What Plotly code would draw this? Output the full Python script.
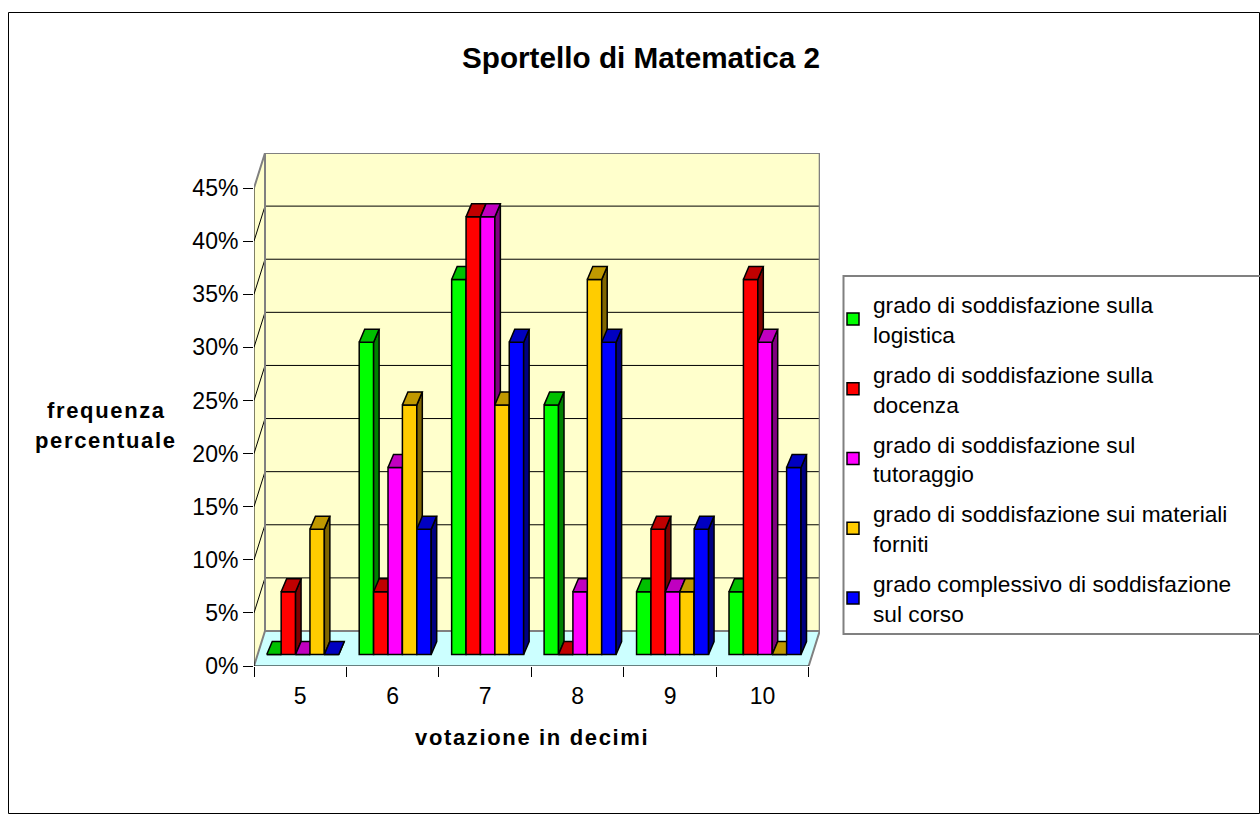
import plotly.graph_objects as go

categories = ["5", "6", "7", "8", "9", "10"]
logistica = [0, 29.4, 35.3, 23.5, 5.9, 5.9]
docenza = [5.9, 5.9, 41.2, 0, 11.8, 35.3]
tutoraggio = [0, 17.6, 41.2, 5.9, 5.9, 29.4]
materiali = [11.8, 23.5, 23.5, 35.3, 5.9, 0]
complessivo = [0, 11.8, 29.4, 29.4, 11.8, 17.6]
series_names = [
    "grado di soddisfazione sulla<br>logistica",
    "grado di soddisfazione sulla<br>docenza",
    "grado di soddisfazione sul<br>tutoraggio",
    "grado di soddisfazione sui materiali<br>forniti",
    "grado complessivo di soddisfazione<br>sul corso",
]
series_values = [logistica, docenza, tutoraggio, materiali, complessivo]
front_colors = ["#00FF00", "#FF0000", "#FF00FF", "#FFCC00", "#0000FF"]
top_colors = ["#00C000", "#C00000", "#C000C0", "#C09900", "#0000C0"]
side_colors = ["#008000", "#800000", "#800080", "#806600", "#000080"]
y_ticks = [0, 5, 10, 15, 20, 25, 30, 35, 40, 45]

W, H = 1260, 814
PX_L, PX_R, PX_T, PX_B = 254, 820, 153, 666
X_UNIT = (808.7 - 254) / 6
Y_UNIT = (666 - 188) / 45
x_min = -0.5
x_max = x_min + (PX_R - PX_L) / X_UNIT
y_max = (PX_B - PX_T) / Y_UNIT
DX, DY = 11 / X_UNIT, 35 / Y_UNIT          # depth of the chart box
BDX, BDY = 5.5 / X_UNIT, 13 / Y_UNIT       # depth of one bar
OX, OY = 3.5 / X_UNIT, 11.5 / Y_UNIT       # bars stand inside the floor
BAR_W = 14.4 / X_UNIT
START = -0.362
n = len(categories)
right = n - 0.5


def px(x):
    return x / W


def py(y):
    return 1 - y / H


fig = go.Figure()


def poly(xs, ys, fill, color="rgba(0,0,0,0)", width=0):
    fig.add_trace(go.Scatter(x=xs, y=ys, mode="lines", fill="toself", fillcolor=fill,
                             line=dict(color=color, width=width), showlegend=False,
                             hoverinfo="skip", cliponaxis=False))


def line(xs, ys, color, width):
    fig.add_trace(go.Scatter(x=xs, y=ys, mode="lines", line=dict(color=color, width=width),
                             showlegend=False, hoverinfo="skip", cliponaxis=False))


# chart box: back wall, side wall, floor
top = y_ticks[-1]
poly([x_min + DX, right + DX, right + DX, x_min + DX, x_min + DX], [DY, DY, top + DY, top + DY, DY], "#FFFFCC")
poly([x_min, x_min + DX, x_min + DX, x_min, x_min], [0, DY, top + DY, top, 0], "#FFFFCC")
poly([x_min, right, right + DX, x_min + DX, x_min], [0, 0, DY, DY, 0], "#CCFFFF")
for t in y_ticks[1:-1]:
    line([x_min, x_min + DX, right + DX], [t, t + DY, t + DY], "#000000", 1)
line([x_min, x_min + DX, right + DX, right + DX, x_min + DX, x_min + DX, x_min],
     [top, top + DY, top + DY, DY, DY, top + DY, top], "#808080", 2)
line([x_min, x_min + DX, right + DX, right], [0, DY, DY, 0], "#808080", 2)
line([x_min, x_min], [0, top], "#000000", 1)
line([x_min, right], [0, 0], "#000000", 1)

# bars: each series on its own overlaid pair of axes so the painter's order is left to right
for i, vals in enumerate(series_values):
    ax = str(i + 2)
    xa, ya = "x" + ax, "y" + ax
    off = START + i * BAR_W
    side_x, side_y, top_x, top_y = [], [], [], []
    for c, v in enumerate(vals):
        x0 = c + off
        x1 = x0 + BAR_W
        t = OY + v
        side_x += [x1, x1 + BDX, x1 + BDX, x1, x1, None]
        side_y += [OY, OY + BDY, t + BDY, t, OY, None]
        top_x += [x0, x1, x1 + BDX, x0 + BDX, x0, None]
        top_y += [t, t, t + BDY, t + BDY, t, None]
    fig.add_trace(go.Bar(x=list(range(n)), y=vals, base=OY, width=BAR_W, offset=off,
                         marker=dict(color=front_colors[i], line=dict(color="#000000", width=1.5)),
                         name='<span style="font-size:22.7px">' + series_names[i].replace("<br>", '</span><br><span style="font-size:22.7px">') + "</span>",
                         legendgroup="g" + str(i), xaxis=xa, yaxis=ya, hoverinfo="skip"))
    for xs, ys, col in ((side_x, side_y, side_colors[i]), (top_x, top_y, top_colors[i])):
        fig.add_trace(go.Scatter(x=xs, y=ys, mode="lines", fill="toself", fillcolor=col,
                                 line=dict(color="#000000", width=1.5), showlegend=False,
                                 hoverinfo="skip", xaxis=xa, yaxis=ya, cliponaxis=False))
    fig.update_layout({
        "xaxis" + ax: dict(overlaying="x", range=[x_min, x_max], visible=False, anchor=ya),
        "yaxis" + ax: dict(overlaying="y", range=[0, y_max], visible=False, anchor=xa),
    })

FONT = "Liberation Sans, Arial, sans-serif"
SP = '<span style="letter-spacing:1.65px"><b>{}</b></span>'
fig.update_layout(
    width=W, height=H, autosize=False,
    margin=dict(l=0, r=0, t=0, b=0, autoexpand=False, pad=0),
    paper_bgcolor="#FFFFFF", plot_bgcolor="rgba(0,0,0,0)",
    barmode="overlay", font=dict(family=FONT, color="#000000", size=23),
    xaxis=dict(domain=[px(PX_L), px(PX_R)], range=[x_min, x_max], tickmode="array",
               tickvals=list(range(n)), ticktext=categories, ticks="outside", ticklen=9,
               tickcolor="rgba(0,0,0,0)", showgrid=False, zeroline=False, showline=False,
               tickfont=dict(size=23),
               minor=dict(tick0=x_min, dtick=1, ticks="outside", ticklen=10, tickwidth=1,
                          tickcolor="#000000", showgrid=False)),
    yaxis=dict(domain=[py(PX_B), py(PX_T)], range=[0, y_max], tickmode="array",
               tickvals=y_ticks, ticktext=[f"{t}%" for t in y_ticks], ticks="outside", ticklen=10,
               tickwidth=1, tickcolor="#000000", showgrid=False, zeroline=False, showline=False,
               tickfont=dict(size=23)),
    legend=dict(x=px(839), y=py(282.5), xanchor="left", yanchor="top", bgcolor="rgba(0,0,0,0)",
                borderwidth=0, font=dict(size=23, family=FONT), indentation=-6,
                traceorder="grouped", tracegroupgap=7),
    showlegend=True,
    annotations=[
        dict(text="<b>Sportello di Matematica 2</b>", x=px(641), y=py(57), xref="paper", yref="paper",
             showarrow=False, font=dict(size=29.7), xanchor="center", yanchor="middle"),
        dict(text=SP.format("votazione in decimi"), x=px(532), y=py(737), xref="paper", yref="paper",
             showarrow=False, font=dict(size=22), xanchor="center", yanchor="middle"),
        dict(text=SP.format("frequenza"), x=px(106), y=py(410), xref="paper", yref="paper",
             showarrow=False, font=dict(size=22), xanchor="center", yanchor="middle"),
        dict(text=SP.format("percentuale"), x=px(106), y=py(441), xref="paper", yref="paper",
             showarrow=False, font=dict(size=22), xanchor="center", yanchor="middle"),
    ],
    shapes=[
        dict(type="rect", xref="paper", yref="paper", x0=px(8.5), x1=px(1259.5), y0=py(12.5), y1=py(813.5),
             line=dict(color="#000000", width=1), layer="below"),
        dict(type="rect", xref="paper", yref="paper", x0=px(843.5), x1=px(1270), y0=py(276), y1=py(634),
             line=dict(color="#808080", width=2), layer="above"),
    ],
)
fig.write_html("out.html", config={"displayModeBar": False},
               post_script="document.body.style.margin='0';document.body.style.overflow='hidden';")
